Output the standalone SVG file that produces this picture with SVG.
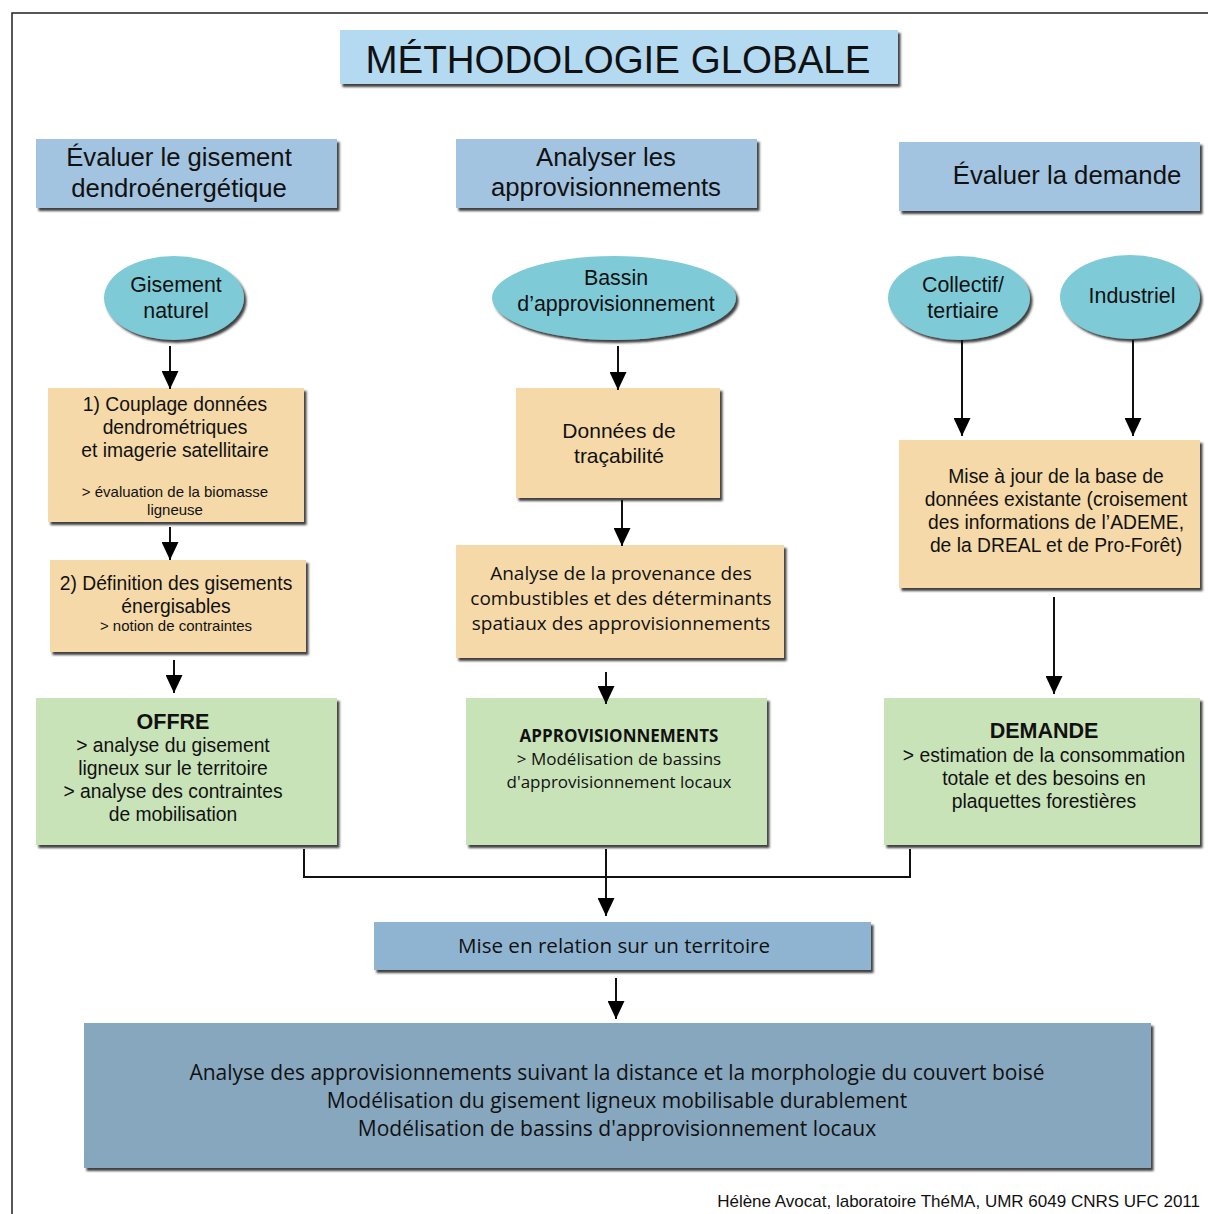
<svg xmlns="http://www.w3.org/2000/svg" width="1208" height="1214" viewBox="0 0 1208 1214">
<style>
.t{font-family:"Liberation Sans",Arial,sans-serif;fill:#111;text-anchor:middle}
.m{font-family:"Open Sans","Liberation Sans",sans-serif;fill:#111;text-anchor:middle}
.h{font-size:25.7px}
.e{font-size:21.4px}
.b{font-size:19.3px}
.s{font-size:15px}
.bb{font-size:21.5px;font-weight:bold}
.hd{fill:#a3c4e0}
.el{fill:#7ecad7}
.or{fill:#f5d9a8}
.gr{fill:#c9e3b9}
.ln{stroke:#111;stroke-width:2;fill:none}
</style>
<defs>
<filter id="sh" x="-5%" y="-5%" width="115%" height="125%">
<feDropShadow dx="2.5" dy="3" stdDeviation="1.2" flood-color="#222" flood-opacity="0.85"/>
</filter>
<marker id="a" markerUnits="userSpaceOnUse" markerWidth="18" markerHeight="17" refX="18" refY="8.5" orient="auto" viewBox="0 0 18 17">
<path d="M0,0 L18,8.5 L0,17 Z" fill="#000"/>
</marker>
</defs>
<rect width="1208" height="1214" fill="#fff"/>
<path d="M12,1214 V13 H1208" stroke="#222" stroke-width="1.5" fill="none"/>

<g id="title"><rect x="340" y="30" width="558" height="54" fill="#b4daf2" filter="url(#sh)"/><text class="t" x="618" y="73" font-size="38.5">MÉTHODOLOGIE GLOBALE</text></g>

<g id="h1"><rect class="hd" x="36" y="139" width="301" height="69" filter="url(#sh)"/><text class="t h" x="179" y="166">Évaluer le gisement</text><text class="t h" x="179" y="197">dendroénergétique</text></g>
<g id="h2"><rect class="hd" x="456" y="139" width="301" height="69" filter="url(#sh)"/><text class="t h" x="606" y="166">Analyser les</text><text class="t h" x="606" y="196">approvisionnements</text></g>
<g id="h3"><rect class="hd" x="899" y="142" width="301" height="69" filter="url(#sh)"/><text class="t h" x="1067" y="184">Évaluer la demande</text></g>

<g id="e1"><ellipse class="el" cx="174" cy="298" rx="70" ry="42" filter="url(#sh)"/><text class="t e" x="176" y="292">Gisement</text><text class="t e" x="176" y="318">naturel</text></g>
<g id="e2"><ellipse class="el" cx="614" cy="298" rx="122" ry="42" filter="url(#sh)"/><text class="t e" x="616" y="285">Bassin</text><text class="t e" x="616" y="311">d’approvisionnement</text></g>
<g id="e3"><ellipse class="el" cx="959" cy="298" rx="71" ry="42" filter="url(#sh)"/><text class="t e" x="963" y="292">Collectif/</text><text class="t e" x="963" y="318">tertiaire</text></g>
<g id="e4"><ellipse class="el" cx="1130" cy="297" rx="70" ry="42" filter="url(#sh)"/><text class="t e" x="1132" y="303">Industriel</text></g>

<g id="b1"><rect class="or" x="48" y="388" width="256" height="134" filter="url(#sh)"/>
<text class="t b" x="175" y="411">1) Couplage données</text>
<text class="t b" x="175" y="434">dendrométriques</text>
<text class="t b" x="175" y="457">et imagerie satellitaire</text>
<text class="t s" x="175" y="497">&gt; évaluation de la biomasse</text>
<text class="t s" x="175" y="515">ligneuse</text></g>
<g id="b2"><rect class="or" x="50" y="560" width="256" height="92" filter="url(#sh)"/>
<text class="t b" x="176" y="590">2) Définition des gisements</text>
<text class="t b" x="176" y="613">énergisables</text>
<text class="t s" x="176" y="631">&gt; notion de contraintes</text></g>
<g id="offre"><rect class="gr" x="36" y="698" width="301" height="147" filter="url(#sh)"/>
<text class="t bb" x="173" y="729">OFFRE</text>
<text class="t b" x="173" y="752">&gt; analyse du gisement</text>
<text class="t b" x="173" y="775">ligneux sur le territoire</text>
<text class="t b" x="173" y="798">&gt; analyse des contraintes</text>
<text class="t b" x="173" y="821">de mobilisation</text></g>

<g id="trac"><rect class="or" x="516" y="388" width="204" height="110" filter="url(#sh)"/>
<text class="t" x="619" y="438" font-size="21">Données de</text>
<text class="t" x="619" y="463" font-size="21">traçabilité</text></g>
<g id="prov"><rect class="or" x="456" y="545" width="328" height="113" filter="url(#sh)"/>
<text class="m" x="621" y="580" font-size="19">Analyse de la provenance des</text>
<text class="m" x="621" y="605" font-size="19">combustibles et des déterminants</text>
<text class="m" x="621" y="630" font-size="19">spatiaux des approvisionnements</text></g>
<g id="appro"><rect class="gr" x="466" y="698" width="301" height="147" filter="url(#sh)"/>
<text class="m" x="619" y="742" font-size="17" font-weight="bold">APPROVISIONNEMENTS</text>
<text class="m" x="619" y="765" font-size="17">&gt; Modélisation de bassins</text>
<text class="m" x="619" y="788" font-size="17">d'approvisionnement locaux</text></g>

<g id="maj"><rect class="or" x="899" y="440" width="301" height="148" filter="url(#sh)"/>
<text class="t b" x="1056" y="483">Mise à jour de la base de</text>
<text class="t b" x="1056" y="506">données existante (croisement</text>
<text class="t b" x="1056" y="529">des informations de l’ADEME,</text>
<text class="t b" x="1056" y="552">de la DREAL et de Pro-Forêt)</text></g>
<g id="demande"><rect class="gr" x="884" y="698" width="316" height="147" filter="url(#sh)"/>
<text class="t bb" x="1044" y="738">DEMANDE</text>
<text class="t b" x="1044" y="762">&gt; estimation de la consommation</text>
<text class="t b" x="1044" y="785">totale et des besoins en</text>
<text class="t b" x="1044" y="808">plaquettes forestières</text></g>

<g id="rel"><rect x="374" y="922" width="497" height="48" fill="#8fb4d1" filter="url(#sh)"/>
<text class="m" x="614" y="953" font-size="20.6">Mise en relation sur un territoire</text></g>
<g id="final"><rect x="84" y="1023" width="1067" height="145" fill="#87a7bf" filter="url(#sh)"/>
<text class="m" x="617" y="1080" font-size="21">Analyse des approvisionnements suivant la distance et la morphologie du couvert boisé</text>
<text class="m" x="617" y="1108" font-size="21">Modélisation du gisement ligneux mobilisable durablement</text>
<text class="m" x="617" y="1136" font-size="21">Modélisation de bassins d'approvisionnement locaux</text></g>

<g id="credit"><text x="1200" y="1207" font-family="Liberation Sans,Arial,sans-serif" font-size="17" fill="#111" text-anchor="end">Hélène Avocat, laboratoire ThéMA, UMR 6049 CNRS UFC 2011</text></g>

<g id="connectors">
<path class="ln" d="M170,346 V389" marker-end="url(#a)"/>
<path class="ln" d="M170,527 V560" marker-end="url(#a)"/>
<path class="ln" d="M174,660 V693" marker-end="url(#a)"/>
<path class="ln" d="M618,346 V390" marker-end="url(#a)"/>
<path class="ln" d="M622,500 V546" marker-end="url(#a)"/>
<path class="ln" d="M606,672 V704" marker-end="url(#a)"/>
<path class="ln" d="M962,340 V436" marker-end="url(#a)"/>
<path class="ln" d="M1133,340 V436" marker-end="url(#a)"/>
<path class="ln" d="M1054,597 V694" marker-end="url(#a)"/>
<path class="ln" d="M304,849 V877 H910 V849" stroke-width="1.5"/>
<path class="ln" d="M606,849 V916" marker-end="url(#a)"/>
<path class="ln" d="M616,978 V1019" marker-end="url(#a)"/>
</g>
</svg>
